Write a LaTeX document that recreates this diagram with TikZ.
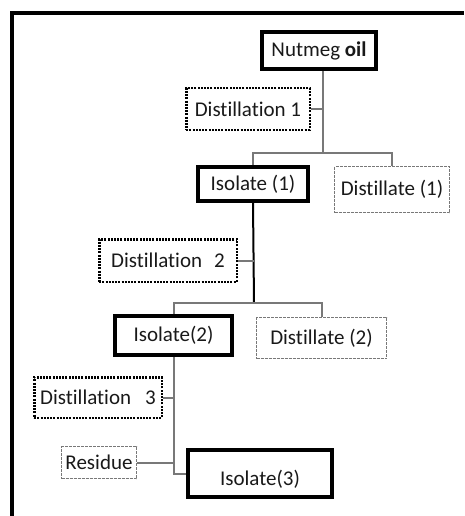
\documentclass[tikz,border=0pt]{standalone}
\usepackage{fontspec}
\setmainfont[Ligatures=NoCommon]{Carlito}
\usetikzlibrary{positioning}
\definecolor{boxtext}{RGB}{25, 25, 25}
\definecolor{linkgray}{RGB}{120, 120, 120}

\begin{document}
\begin{tikzpicture}[x=1pt, y=-1pt,
    every node/.style={font=\fontsize{21}{25}\selectfont, text=boxtext, inner sep=2pt},
    isolatebox/.style={draw=black, line width=4pt},
    distbox/.style={draw=black, line width=2.5pt, dash pattern=on 2pt off 1.2pt},
    productbox/.style={draw=linkgray, line width=1pt, dash pattern=on 3pt off 1pt},
    link/.style={draw=linkgray, line width=2pt}]
    \useasboundingbox (0,0) rectangle (464,516);
    % frame, cut at right and bottom
    \draw[line width=4pt] (12,516) -- (12,13) -- (464,13);

    \node[isolatebox, minimum width=114pt, minimum height=37pt] (nutmeg) at (319,50.5) {Nutmeg \textbf{oil}};
    \node[distbox, minimum width=123.5pt, minimum height=41.5pt] (dist1) at (248,109) {Distillation 1};
    \node[isolatebox, minimum width=110pt, minimum height=34pt] (iso1) at (253,184) {Isolate (1)};
    \node[productbox, minimum width=115pt, minimum height=46pt] (distl1) at (392,189.5) {Distillate (1)};

    \node[distbox, minimum width=137.5pt, minimum height=42.5pt] (dist2) at (168,260.5) {Distillation\hspace{12pt}2};
    \node[isolatebox, minimum width=117pt, minimum height=39pt] (iso2) at (173.5,335.5) {Isolate(2)};
    \node[productbox, minimum width=130pt, minimum height=41pt] (distl2) at (321.5,338) {Distillate (2)};

    \node[distbox, minimum width=127.5pt, minimum height=40.5pt] (dist3) at (98,397.5) {Distillation\hspace{14pt}3};
    \node[productbox, minimum width=75pt, minimum height=32pt] (residue) at (99,462.5) {Residue};
    \node[isolatebox, minimum width=144pt, minimum height=47pt, text height=27pt, text depth=4pt] (iso3) at (260,473.5) {Isolate(3)};

    \coordinate (split1) at (323,153);
    \coordinate (split2) at (254,303);

    \draw[link] (nutmeg.south -| split1) -- (split1);
    \draw[link] (dist1.east) -- (dist1.east -| split1);
    \draw[link] (iso1.north) |- (split1) -| (distl1.north);

    \draw[line width=2pt] (iso1.south) -- (split2);
    \draw[link] (dist2.east) -- (dist2.east -| split2);
    \draw[link] (iso2.north) |- (split2) -| (distl2.north);

    \draw[link] (iso2.south) |- (iso3.west);
    \draw[link] (dist3.east) -- (dist3.east -| iso2.south);
    \draw[link] (residue.east) -- (residue.east -| iso2.south);
\end{tikzpicture}
\end{document}
